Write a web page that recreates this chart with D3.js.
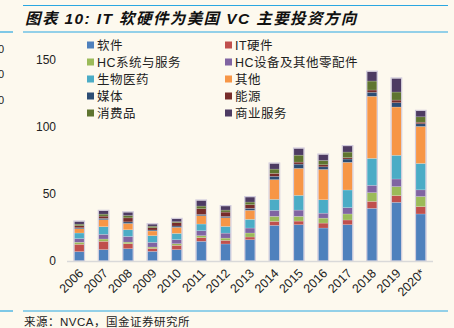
<!DOCTYPE html>
<html>
<head>
<meta charset="utf-8">
<script src="https://cdn.jsdelivr.net/npm/d3@7"></script>
<style>
  body { margin: 0; background: #fdf9ee; }
  svg { display: block; font-family: "Liberation Sans", Arial, "Noto Sans CJK SC", sans-serif; }
</style>
</head>
<body>
<div id="chart"></div>
<script>
// VC investment by sector, 2006-2020* (bn USD)
var years = ['2006', '2007', '2008', '2009', '2010', '2011', '2012', '2013', '2014', '2015', '2016', '2017', '2018', '2019', '2020*'];
var software    = [7.0, 8.5, 9.2, 7.2, 8.5, 14.7, 12.7, 15.9, 26.6, 27.1, 24.6, 27.1, 39.3, 43.8, 35.1];
var itHardware  = [5.5, 6.2, 3.7, 2.2, 3.2, 2.7, 2.7, 2.0, 3.0, 2.7, 3.7, 3.5, 5.2, 5.0, 5.5];
var hcServices  = [1.5, 1.7, 1.2, 1.0, 1.2, 1.5, 1.7, 3.0, 3.7, 3.5, 3.7, 4.5, 6.5, 6.7, 7.5];
var hcDevices   = [2.7, 3.5, 4.2, 3.5, 3.0, 3.7, 3.7, 3.7, 4.5, 4.7, 3.7, 4.7, 5.5, 5.7, 5.0];
var biopharma   = [4.2, 5.7, 5.0, 5.0, 4.7, 5.0, 5.0, 6.5, 8.2, 11.0, 10.0, 13.2, 20.1, 17.7, 19.7];
var other       = [3.2, 5.2, 4.7, 3.5, 4.5, 6.2, 6.5, 6.7, 14.7, 20.1, 22.6, 20.6, 46.3, 36.0, 27.6];
var media       = [0.7, 1.0, 1.2, 0.7, 1.0, 1.0, 1.0, 1.5, 2.5, 3.2, 2.0, 2.5, 3.0, 3.2, 2.0];
var energy      = [1.5, 1.7, 3.0, 1.7, 2.5, 4.2, 3.2, 2.7, 2.2, 1.5, 1.5, 1.0, 1.7, 2.0, 1.2];
var consumer    = [1.2, 1.5, 1.7, 1.2, 0.7, 2.0, 1.5, 2.0, 3.2, 5.2, 3.2, 4.2, 6.7, 6.0, 4.0];
var business    = [2.0, 2.5, 2.5, 1.5, 2.2, 4.2, 3.0, 3.7, 4.2, 5.0, 4.5, 4.5, 7.0, 10.2, 4.5];

var seriesNames = ['软件', 'IT硬件', 'HC系统与服务', 'HC设备及其他零配件', '生物医药', '其他', '媒体', '能源', '消费品', '商业服务'];
var seriesValues = [software, itHardware, hcServices, hcDevices, biopharma, other, media, energy, consumer, business];
var colors = ['#4f81bd', '#c0504d', '#9bbb59', '#8064a2', '#4bacc6', '#f79646', '#2c4d75', '#772c2a', '#5f7530', '#4d3b62'];
var yTicks = [0, 50, 100, 150];

var W = 454, H = 328;
var lineColor = '#2aa7e1';

var rows = years.map(function(y, i) {
  var r = { year: y };
  seriesNames.forEach(function(n, k) { r[n] = seriesValues[k][i]; });
  return r;
});

var svg = d3.select('#chart').append('svg')
  .attr('width', W)
  .attr('height', H)
  .style('background', '#fdf9ee');

// header / footer rules
[[23, 448, 5.5], [23, 448, 32], [0, 13, 32], [23, 448, 311], [0, 13, 311]].forEach(function(l) {
  svg.append('line')
    .attr('x1', l[0]).attr('x2', l[1]).attr('y1', l[2]).attr('y2', l[2])
    .attr('stroke', lineColor).attr('stroke-width', 1.2);
});

// clipped labels of the neighbouring chart on the left edge
[53, 78, 104].forEach(function(y) {
  svg.append('text').attr('x', 4).attr('y', y).attr('text-anchor', 'end')
    .attr('font-size', 11).attr('fill', '#222').text('0');
});

svg.append('text')
  .attr('x', 25).attr('y', 24)
  .attr('font-size', 15.5)
  .attr('font-weight', 'bold')
  .attr('font-style', 'italic')
  .attr('letter-spacing', 1.4)
  .attr('fill', '#111')
  .text('图表 10:  IT 软硬件为美国 VC 主要投资方向');

svg.append('text')
  .attr('x', 24).attr('y', 326)
  .attr('font-size', 11.5)
  .attr('letter-spacing', 0.5)
  .attr('fill', '#222')
  .text('来源：NVCA，国金证券研究所');

var x = d3.scaleBand()
  .domain(years)
  .range([67, 433])
  .paddingInner(0.6)
  .paddingOuter(0.3);

var y = d3.scaleLinear()
  .domain([0, 150])
  .range([261, 60]);

var stack = d3.stack().keys(seriesNames)(rows);

svg.append('g').selectAll('g')
  .data(stack)
  .join('g')
  .attr('fill', function(d, i) { return colors[i]; })
  .selectAll('rect')
  .data(function(d) { return d; })
  .join('rect')
  .attr('x', function(d) { return x(d.data.year); })
  .attr('y', function(d) { return y(d[1]); })
  .attr('width', x.bandwidth())
  .attr('height', function(d) { return y(d[0]) - y(d[1]); })
  .attr('stroke', 'rgba(255,255,255,0.35)')
  .attr('stroke-width', 0.5);

// pale outline round each column
svg.append('g').selectAll('rect')
  .data(stack[stack.length - 1])
  .join('rect')
  .attr('x', function(d) { return x(d.data.year) - 0.5; })
  .attr('y', function(d) { return y(d[1]) - 0.5; })
  .attr('width', x.bandwidth() + 1)
  .attr('height', function(d) { return y(0) - y(d[1]) + 0.5; })
  .attr('fill', 'none')
  .attr('stroke', '#cfc9dc')
  .attr('stroke-width', 1);

// baseline
svg.append('line')
  .attr('x1', 67).attr('x2', 433)
  .attr('y1', y(0) + 0.5).attr('y2', y(0) + 0.5)
  .attr('stroke', '#d9d9d9').attr('stroke-width', 1.5);

var yAxis = d3.axisLeft(y).tickValues(yTicks).tickSize(0).tickPadding(0);
var yg = svg.append('g').attr('transform', 'translate(56,0)').call(yAxis);
yg.select('.domain').remove();
yg.selectAll('text').attr('font-size', 12).attr('fill', '#222').attr('font-family', '"Liberation Sans", Arial, sans-serif');

var xAxis = d3.axisBottom(x).tickSize(0).tickPadding(0);
var xg = svg.append('g').attr('transform', 'translate(0,' + y(0) + ')').call(xAxis);
xg.select('.domain').remove();
xg.selectAll('text')
  .attr('font-size', 12.5)
  .attr('fill', '#222')
  .attr('font-family', '"Liberation Sans", Arial, sans-serif')
  .attr('text-anchor', 'end')
  .attr('dy', null)
  .attr('transform', 'translate(5,13) rotate(-45)');

// legend, two columns
var legend = svg.append('g').selectAll('g')
  .data(seriesNames)
  .join('g')
  .attr('transform', function(d, i) {
    return 'translate(' + (i % 2 === 0 ? 87 : 225) + ',' + (45 + Math.floor(i / 2) * 17) + ')';
  });

legend.append('rect')
  .attr('x', 0).attr('y', -3.5)
  .attr('width', 7).attr('height', 7)
  .attr('fill', function(d, i) { return colors[i]; });

legend.append('text')
  .attr('x', 10).attr('y', 4.5)
  .attr('font-size', 12.5)
  .attr('letter-spacing', 0.5)
  .attr('fill', '#222')
  .text(function(d) { return d; });
</script>
</body>
</html>
